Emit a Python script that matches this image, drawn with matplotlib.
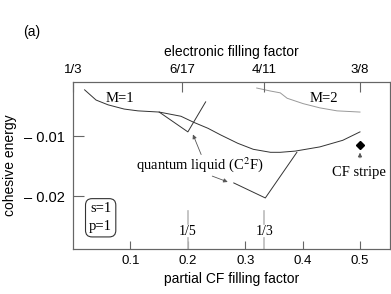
import numpy as np
import matplotlib
matplotlib.use("Agg")
import matplotlib.pyplot as plt

# M=1 cohesive energy curve (partial CF filling factor vs energy)
m1_x = [0.02, 0.04, 0.061, 0.089, 0.113, 0.15, 0.188, 0.21, 0.235, 0.257, 0.287, 0.314, 0.344, 0.361, 0.387, 0.43, 0.47, 0.5]
m1_y = [-0.0023, -0.0040, -0.0048, -0.0055, -0.0058, -0.0060, -0.0067, -0.0077, -0.0087, -0.0098, -0.0112, -0.0122, -0.0127, -0.0127, -0.0125, -0.0118, -0.0107, -0.0093]

# M=2 curve
m2_x = [0.32, 0.344, 0.361, 0.373, 0.401, 0.43, 0.46, 0.5]
m2_y = [-0.0020, -0.0025, -0.0028, -0.0037, -0.0046, -0.0053, -0.0058, -0.0060]

# quantum liquid (C2F) segments
ql1_x = [0.15, 0.2, 0.231]
ql1_y = [-0.0060, -0.0093, -0.0043]
ql2_x = [0.28, 0.335, 0.39]
ql2_y = [-0.0178, -0.0203, -0.0127]

# CF stripe point
stripe_x = [0.5]
stripe_y = [-0.0115]

bottom_ticks = [0.1, 0.2, 0.3, 0.4, 0.5]
top_ticks = [0.0, 0.19, 1/3, 0.5]
top_labels = ["1/3", "6/17", "4/11", "3/8"]
y_ticks = [-0.01, -0.02]
y_labels = ["\u2013 0.01", "\u2013 0.02"]
marks_x = [0.2, 1/3]
marks_lab = ["1/5", "1/3"]

plt.rcParams['font.family'] = ['Liberation Sans', 'DejaVu Sans']
serif = 'Liberation Serif'
lc = '#333333'
spc = '#666666'

fig = plt.figure(figsize=(3.91, 2.94), dpi=100)
ax = fig.add_axes([0.187, 0.153, 0.81, 0.568])
ax.set_xlim(0, 0.552)
ax.set_ylim(-0.0288, -0.001)

ax.plot(m1_x, m1_y, color=lc, lw=0.7)
ax.plot(m2_x, m2_y, color='#999999', lw=0.7)
ax.plot(ql1_x, ql1_y, color=lc, lw=0.7)
ax.plot(ql2_x, ql2_y, color=lc, lw=0.7)
ax.plot(stripe_x, stripe_y, 'D', color='black', ms=4)

# gray markers at 1/5 and 1/3
for xm, lab in zip(marks_x, marks_lab):
    ax.plot([xm, xm], [-0.0288, -0.0270], color='#bbbbbb', lw=1.2)
    ax.plot([xm, xm], [-0.0246, -0.0224], color='#bbbbbb', lw=1.2)
    ax.text(xm, -0.02585, lab, ha='center', va='center', family=serif, fontsize=10)

ax.text(0.082, -0.0037, "M=1", family=serif, fontsize=10.5, ha='center', va='center')
ax.text(0.437, -0.0037, "M=2", family=serif, fontsize=10.5, ha='center', va='center')
ax.text(0.221, -0.0148, "quantum liquid (C$^2$F)", family=serif, fontsize=10.5,
        ha='center', va='center', math_fontfamily='stix')
ax.text(0.499, -0.0160, "CF stripe", family=serif, fontsize=10.5, ha='center', va='center')

arr = dict(arrowstyle='-|>', color='#555555', lw=0.6, mutation_scale=6)
ax.annotate("", xy=(0.207, -0.0093), xytext=(0.225, -0.0135), arrowprops=arr)
ax.annotate("", xy=(0.274, -0.0178), xytext=(0.238, -0.0165), arrowprops=arr)
ax.annotate("", xy=(0.5, -0.0123), xytext=(0.5, -0.0141), arrowprops=arr)

# s=1 p=1 box
ax.text(0.048, -0.0236, "s=1\np=1", family=serif, fontsize=10.5, ha='center', va='center',
        linespacing=1.5,
        bbox=dict(boxstyle='round,pad=0.25,rounding_size=0.45', fc='white', ec=lc, lw=0.8))

for s in ax.spines.values():
    s.set_color(spc)
    s.set_linewidth(0.8)

ax.set_xticks(bottom_ticks)
ax.set_xticklabels([f"{t:.1f}" for t in bottom_ticks], fontsize=9.5)
ax.set_yticks(y_ticks)
ax.set_yticklabels(y_labels, fontsize=10.5)
ax.tick_params(direction='in', length=6, color=spc, width=0.8, pad=4)
ax.tick_params(axis='y', length=8, pad=6)
ax.set_xlabel("partial CF filling factor", fontsize=10, labelpad=4)
ax.set_ylabel("cohesive energy", fontsize=10, labelpad=5)

top = ax.twiny()
top.set_xlim(ax.get_xlim())
top.set_xticks(top_ticks)
top.set_xticklabels(top_labels, fontsize=9.5)
top.tick_params(direction='in', length=7, color=spc, width=0.8, pad=4)
top.set_xlabel("electronic filling factor", fontsize=10, labelpad=6)
for s in top.spines.values():
    s.set_color(spc)
    s.set_linewidth(0.8)

fig.text(0.058, 0.89, "(a)", fontsize=10, ha='left', va='center')

fig.savefig("out.png", dpi=100)
